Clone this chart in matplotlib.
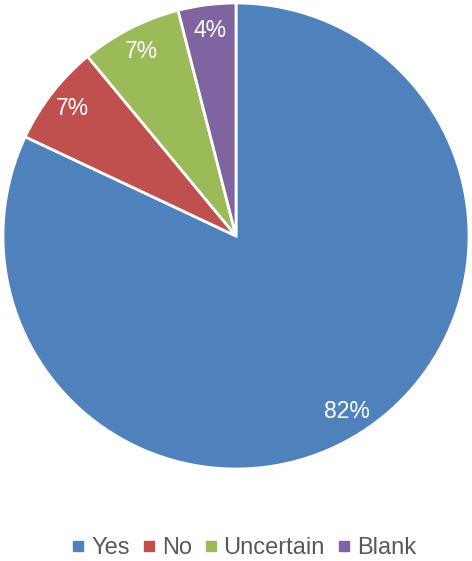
import matplotlib
matplotlib.use("Agg")
import matplotlib.pyplot as plt
from matplotlib.lines import Line2D

labels = ["Yes", "No", "Uncertain", "Blank"]
values = [82, 7, 7, 4]
colors = ["#4F81BD", "#C0504D", "#9BBB59", "#8064A2"]

plt.rcParams['font.family'] = ['Liberation Sans', 'DejaVu Sans']

W, H = 472, 561
fig = plt.figure(figsize=(W / 100, H / 100), dpi=100)
ax = fig.add_axes([3 / W, (H - 469) / H, 466 / W, 466 / H])

ax.pie(values, colors=colors, startangle=90, counterclock=False, radius=1,
       autopct=lambda p: "%d%%" % round(p), pctdistance=0.89,
       wedgeprops=dict(edgecolor="white", linewidth=2),
       textprops=dict(color="white", fontsize=16.5))
ax.set_xlim(-1, 1)
ax.set_ylim(-1, 1)
ax.set_aspect("equal")
ax.axis("off")

handles = [Line2D([], [], marker="s", linestyle="", markersize=7,
                  markerfacecolor=c, markeredgecolor=c) for c in colors]
fig.legend(handles, labels, loc="center", bbox_to_anchor=(243 / W, (H - 548) / H),
           ncol=4, frameon=False, fontsize=17, handletextpad=0.2,
           columnspacing=0.45, handlelength=0.7, labelcolor="#595959")

fig.savefig("out.png", dpi=100)
